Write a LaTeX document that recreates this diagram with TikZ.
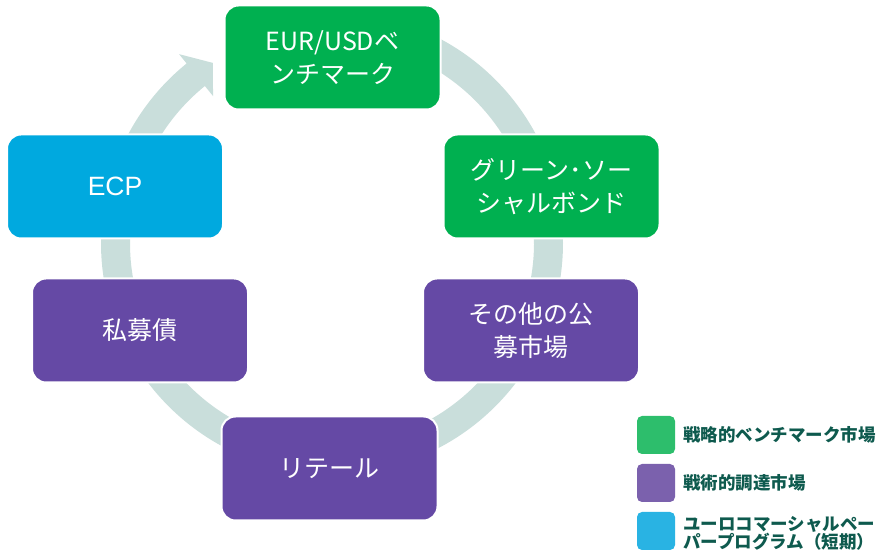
\documentclass[tikz,border=0pt]{standalone}
\usepackage{fontspec}
\setmainfont{Noto Sans CJK JP}
\newfontfamily\ecpfont{Liberation Sans}
\usepackage{xcolor}
\definecolor{benchgreen}{HTML}{00B050}
\definecolor{tactpurple}{HTML}{6549A5}
\definecolor{ecpblue}{HTML}{00A9DF}
\definecolor{ringgray}{HTML}{C9DEDB}
\definecolor{keygreen}{HTML}{2DBE6C}
\definecolor{keypurple}{HTML}{7B61AD}
\definecolor{keyblue}{HTML}{29B3E3}
\definecolor{keytext}{HTML}{0E5A4E}

\begin{document}
\begin{tikzpicture}[x=1pt, y=1pt,
    box/.style={shape=rectangle, rounded corners=14pt, draw=white, line width=2pt,
      minimum width=216pt, minimum height=104pt, text=white, align=center,
      font=\fontsize{25}{33}\selectfont},
    key/.style={shape=rectangle, rounded corners=5pt, minimum size=38pt, inner sep=0pt},
    keylabel/.style={anchor=west, inner sep=0pt, text=keytext, align=left,
      font=\bfseries\fontsize{17.5}{18}\selectfont}]
    \useasboundingbox (0,0) rectangle (879,551);
    % ring with arrow head
    \begin{scope}[shift={(332,308)}]
      \fill[ringgray] (90:231) arc[start angle=90, end angle=-231, radius=231]
        -- (-231:243) -- (-236.5:216) -- (-231:189) -- (-231:202)
        arc[start angle=-231, end angle=90, radius=202] -- cycle;
    \end{scope}
    \node[box, fill=benchgreen] (bench) at (332.5,493.5) {EUR/USDベ\\ンチマーク};
    \node[box, fill=benchgreen] (gsbond) at (551.5,364.5) {グリーン･ソー\\シャルボンド};
    \node[box, fill=tactpurple] (public) at (531,220.5) {その他の公\\募市場};
    \node[box, fill=tactpurple] (retail) at (329.5,82.5) {リテール};
    \node[box, fill=tactpurple] (private) at (140,220.5) {私募債};
    \node[box, fill=ecpblue] (ecp) at (115,364.5) {\ecpfont\fontsize{26.5}{30}\selectfont ECP};
    % legend
    \node[key, fill=keygreen] (keybench) at (656,116) {};
    \node[key, fill=keypurple] (keytact) at (656,68) {};
    \node[key, fill=keyblue] (keyecp) at (656,20) {};
    \node[keylabel] (labbench) at (683,116) {戦略的ベンチマーク市場};
    \node[keylabel] (labtact) at (683,68) {戦術的調達市場};
    \node[keylabel] (labecp) at (683,18) {ユーロコマーシャルペー\\パープログラム（短期）};
\end{tikzpicture}
\end{document}
